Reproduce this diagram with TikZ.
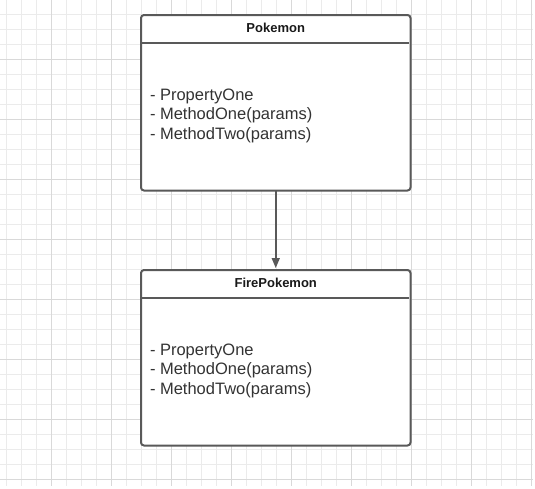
\documentclass[tikz,border=0pt]{standalone}
\usepackage{fontspec}
\setmainfont{Liberation Sans}
\usetikzlibrary{arrows.meta,positioning}
\definecolor{edgegray}{HTML}{595959}
\definecolor{gridminor}{HTML}{EBEBEB}
\definecolor{gridmajor}{HTML}{D9D9D9}
\definecolor{textgray}{HTML}{333333}

\begin{document}
\begin{tikzpicture}[%
      x=1pt, y=-1pt,
      every node/.style={inner sep=0pt, outer sep=0pt},
      classbox/.style={rectangle, draw=edgegray, line width=2pt, fill=white,
        rounded corners=3pt, minimum width=269.5pt, minimum height=175.5pt},
      classname/.style={font=\fontsize{13}{15}\selectfont\bfseries, text=black!90},
      members/.style={font=\fontsize{16.5}{19.5}\selectfont, text=textgray,
        align=left, anchor=west},
      shorten >=2pt, >={Triangle[length=10pt,width=8pt]}
    ]
    \useasboundingbox [fill=white] (0,0) rectangle (535,488);
    % background grid
    \foreach \k in {0,...,35} \draw [gridminor, line width=1pt] (6.7+15*\k,0) -- (6.7+15*\k,488);
    \foreach \k in {0,...,31} \draw [gridminor, line width=1pt] (0,14.3+15*\k) -- (535,14.3+15*\k);
    \foreach \k in {0,...,8} \draw [gridmajor, line width=1pt] (51.7+60*\k,0) -- (51.7+60*\k,488);
    \foreach \k in {0,...,7} \draw [gridmajor, line width=1pt] (0,59.3+60*\k) -- (535,59.3+60*\k);
    % classes
    \node [classbox] (pokemon) at (275.75,102.75) {};
    \node [classbox] (fire) at (275.75,357.75) {};
    \node [classname] (pokemonname) at ([yshift=-13pt]pokemon.north) {Pokemon};
    \node [classname] (firename) at ([yshift=-13pt]fire.north) {FirePokemon};
    \draw [edgegray, line width=2pt] ([yshift=-28pt]pokemon.north west) -- ([yshift=-28pt]pokemon.north east);
    \draw [edgegray, line width=2pt] ([yshift=-28pt]fire.north west) -- ([yshift=-28pt]fire.north east);
    \node [members] (pokemonmembers) at ([xshift=9pt,yshift=-13pt]pokemon.west)
      {- PropertyOne\\- MethodOne(params)\\- MethodTwo(params)};
    \node [members] (firemembers) at ([xshift=9pt,yshift=-13pt]fire.west)
      {- PropertyOne\\- MethodOne(params)\\- MethodTwo(params)};
    % inheritance
    \path [draw] (pokemon) edge[->, edgegray, line width=1.5pt] (fire);
  \end{tikzpicture}
\end{document}
